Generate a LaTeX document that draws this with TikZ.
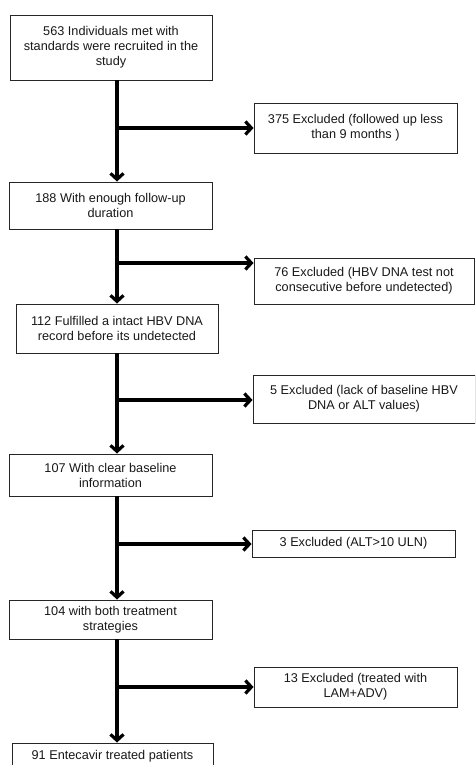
\documentclass[tikz,border=0pt]{standalone}
\usepackage{fontspec}
\setmainfont{Liberation Sans}
\usetikzlibrary{arrows.meta}
\begin{document}
\begin{tikzpicture}[x=1pt,y=-1pt,
  box/.style={draw=black!85, line width=0.9pt, rectangle, align=center, inner sep=0pt,
    font=\fontsize{12.7}{15}\selectfont, text=black!90},
  arr/.style={line width=3.2pt, -{Straight Barb[length=6pt,width=13pt]}}]
\clip (0,0) rectangle (475,765);
\fill[white] (0,0) rectangle (475,765);
% main column
\node[box, minimum width=202pt, minimum height=65pt] (B1) at (111,47.5)
  {563 Individuals met with\\standards were recruited in the\\study};
\node[box, minimum width=203pt, minimum height=47pt] (B2) at (110.5,205.5)
  {188 With enough follow-up\\duration};
\node[box, minimum width=202pt, minimum height=49pt] (B3) at (117,328.5)
  {112 Fulfilled a intact HBV DNA\\record before its undetected};
\node[box, minimum width=203pt, minimum height=42pt] (B4) at (110.5,475)
  {107 With clear baseline\\information};
\node[box, minimum width=203pt, minimum height=39pt] (B5) at (110.5,619.5)
  {104 with both treatment\\strategies};
\node[box, minimum width=201pt, minimum height=26pt] (B6) at (112.5,756)
  {91 Entecavir treated patients};
% excluded boxes
\node[box, minimum width=203pt, minimum height=50pt] (E1) at (355.5,128)
  {375 Excluded (followed up less\\than 9 months )};
\node[box, minimum width=220pt, minimum height=46pt] (E2) at (364,281)
  {76 Excluded (HBV DNA test not\\consecutive before undetected)};
\node[box, minimum width=222pt, minimum height=48pt] (E3) at (364,399)
  {5 Excluded (lack of baseline HBV\\DNA or ALT values)};
\node[box, minimum width=203pt, minimum height=27pt] (E4) at (353.5,543.5)
  {3 Excluded (ALT>10 ULN)};
\node[box, minimum width=203pt, minimum height=40pt] (E5) at (355.5,687)
  {13 Excluded (treated with\\LAM+ADV)};
% junctions
\coordinate (v) at (117,0);
\coordinate (j1) at (117,128);
\coordinate (j2) at (117,263);
\coordinate (j3) at (117,400);
\coordinate (j4) at (117,544);
\coordinate (j5) at (117,687);
% vertical arrows
\draw[arr] (v |- B1.south) -- (v |- B2.north);
\draw[arr] (v |- B2.south) -- (v |- B3.north);
\draw[arr] (v |- B3.south) -- (v |- B4.north);
\draw[arr] (v |- B4.south) -- (v |- B5.north);
\draw[arr] (v |- B5.south) -- (v |- B6.north);
% side arrows
\draw[arr] (j1) -- (j1 -| E1.west);
\draw[arr] (j2) -- (j2 -| E2.west);
\draw[arr] (j3) -- (j3 -| E3.west);
\draw[arr] (j4) -- (j4 -| E4.west);
\draw[arr] (j5) -- (j5 -| E5.west);
\end{tikzpicture}
\end{document}
